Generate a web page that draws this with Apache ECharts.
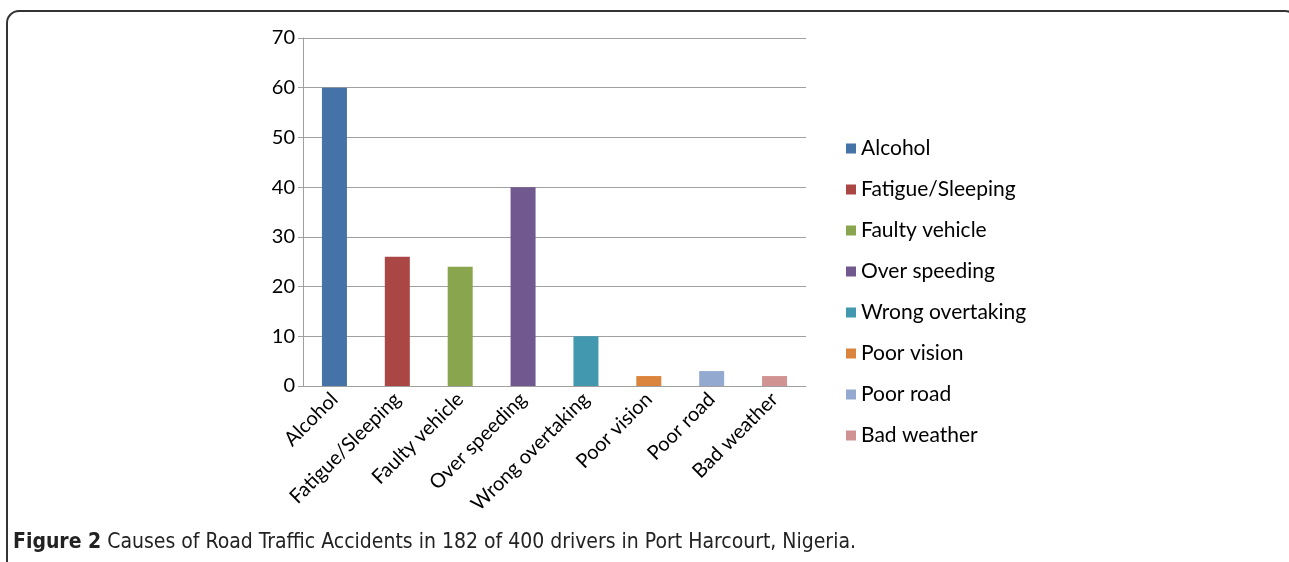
<!DOCTYPE html>
<html><head><meta charset="utf-8">
<script src="https://cdn.jsdelivr.net/npm/echarts@6/dist/echarts.min.js"></script>
<style>html,body{margin:0;padding:0;background:#fff}#c{width:1289px;height:562px}</style>
</head><body><div id="c"></div>
<script>
const categories = ['Alcohol','Fatigue/Sleeping','Faulty vehicle','Over speeding','Wrong overtaking','Poor vision','Poor road','Bad weather'];
const values = [60, 26, 24, 40, 10, 2, 3, 2];
const colors = ['#4572A7','#AA4643','#89A54E','#71588F','#4198AF','#DB843D','#93A9CF','#D19392'];
const yTicks = [0,10,20,30,40,50,60,70];

const font = 'Lato, "Open Sans", sans-serif';
const capFont = '"DejaVu Sans Condensed", "Liberation Sans Narrow", sans-serif';
const series = categories.map((name, i) => ({
  name: name,
  type: 'bar',
  stack: 'all',
  barWidth: 25,
  itemStyle: { color: colors[i] },
  data: categories.map((c, j) => j === i ? values[i] : null)
}));

const chart = echarts.init(document.getElementById('c'));
chart.setOption({
  animation: false,
  grid: { left: 303, top: 38, width: 503, height: 348 },
  xAxis: {
    type: 'category', data: categories,
    axisLine: { lineStyle: { color: '#a0a0a0' } },
    axisTick: { show: false },
    axisLabel: { rotate: 45, color: '#000', fontSize: 20, fontFamily: font, margin: 10, interval: 0 }
  },
  yAxis: {
    type: 'value', min: yTicks[0], max: yTicks[yTicks.length-1], interval: 10,
    axisLine: { show: true, lineStyle: { color: '#a0a0a0' } },
    axisTick: { show: true, length: 5, lineStyle: { color: '#a0a0a0' } },
    splitLine: { lineStyle: { color: '#a0a0a0' } },
    axisLabel: { color: '#000', fontSize: 20, fontFamily: font, margin: 8 }
  },
  legend: {
    orient: 'vertical', left: 841, top: 133,
    itemWidth: 10, itemHeight: 10, itemGap: 20,
    icon: 'rect',
    textStyle: { color: '#000', fontSize: 21, fontFamily: font },
    data: categories
  },
  graphic: [
    { type: 'rect', shape: { x: 7, y: 11, width: 1290, height: 600, r: 12 },
      style: { fill: 'none', stroke: '#333', lineWidth: 2 } },
    { type: 'text', left: 13, top: 532,
      style: { text: '{b|Figure 2} Causes of Road Traffic Accidents in 182 of 400 drivers in Port Harcourt, Nigeria.',
        rich: { b: { fontWeight: 'bold', fontSize: 21, fontFamily: capFont, fill: '#222' } },
        fontSize: 21, fontFamily: capFont, fill: '#222' } }
  ],
  series: series
});
</script></body></html>
